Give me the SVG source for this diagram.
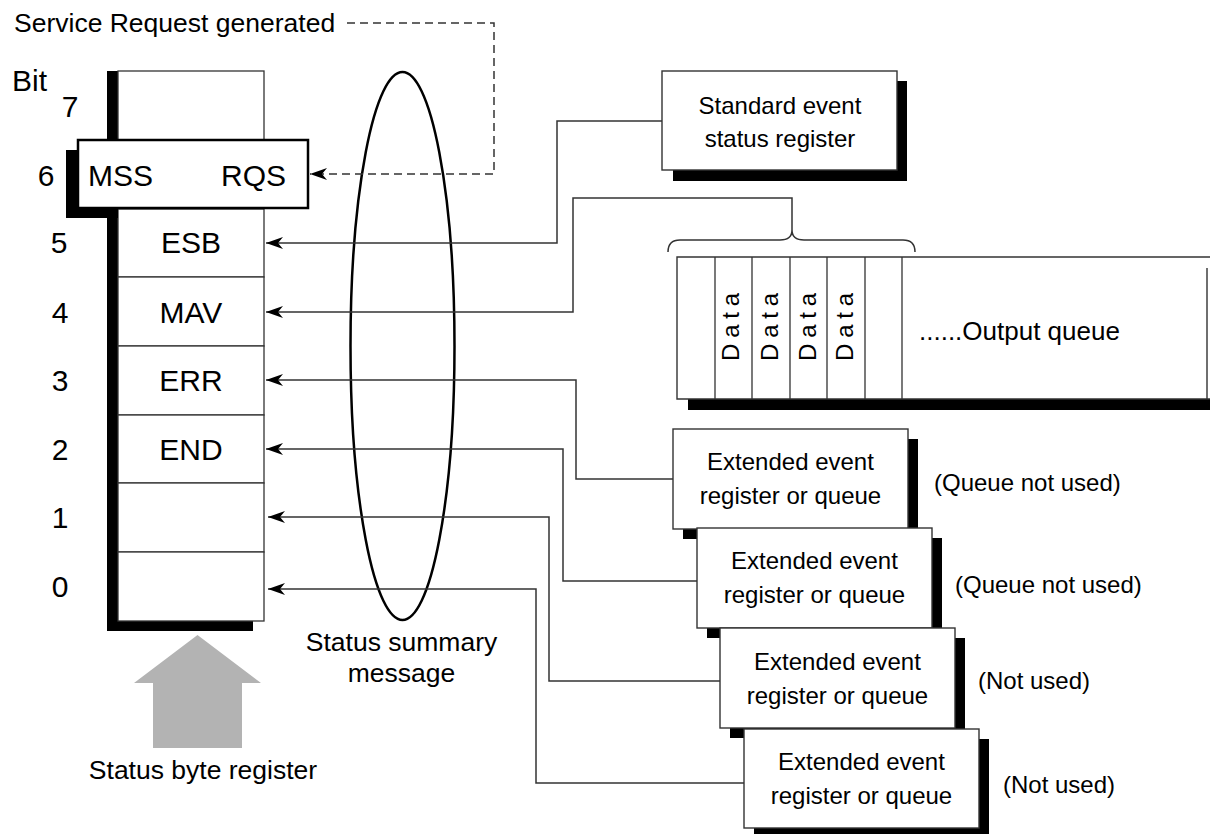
<svg xmlns="http://www.w3.org/2000/svg" width="1210" height="834" viewBox="0 0 1210 834">
<style>
text{font-family:"Liberation Sans",Arial,sans-serif;fill:#000}
.big{font-size:30px}
.mid{font-size:26.5px}
.sm{font-size:24px}
.cell{fill:#fff;stroke:#333;stroke-width:1.3}
.box{fill:#fff;stroke:#333;stroke-width:1.4}
.shadow{fill:#000}
.conn{fill:none;stroke:#333;stroke-width:1.5}
</style>
<defs>
<marker id="ah" viewBox="-18 -7 20 14" refX="0" refY="0" markerWidth="20" markerHeight="14" markerUnits="userSpaceOnUse" orient="auto">
<path d="M0,0 L-17,-6 L-12,0 L-17,6 Z" fill="#000" stroke="none"/>
</marker>
</defs>
<rect width="1210" height="834" fill="#fff"/>

<text id="srq-label" class="mid" x="14" y="32">Service Request generated</text>
<text id="bit-label" class="big" x="12" y="91">Bit</text>

<g id="bit-numbers" class="big" text-anchor="middle">
<text x="70" y="117">7</text>
<text x="46" y="186">6</text>
<text x="59" y="253">5</text>
<text x="60" y="323">4</text>
<text x="60" y="391">3</text>
<text x="60" y="460">2</text>
<text x="60" y="528">1</text>
<text x="60" y="597">0</text>
</g>

<g id="status-byte-register">
<rect class="shadow" x="107" y="71" width="146" height="560"/>
<rect class="cell" x="118" y="71" width="146" height="69"/>
<rect class="cell" x="118" y="209" width="146" height="68"/>
<rect class="cell" x="118" y="277" width="146" height="69"/>
<rect class="cell" x="118" y="346" width="146" height="69"/>
<rect class="cell" x="118" y="415" width="146" height="68"/>
<rect class="cell" x="118" y="483" width="146" height="69"/>
<rect class="cell" x="118" y="552" width="146" height="69"/>
<g class="big" text-anchor="middle">
<text x="191" y="253">ESB</text>
<text x="191" y="323">MAV</text>
<text x="191" y="391">ERR</text>
<text x="191" y="460">END</text>
</g>
</g>

<g id="mss-rqs">
<rect class="shadow" x="66" y="150" width="52" height="68"/>
<rect x="78" y="140" width="230" height="68" fill="#fff" stroke="#000" stroke-width="2.5"/>
<text class="big" x="88" y="186">MSS</text>
<text class="big" x="286" y="186" text-anchor="end">RQS</text>
</g>

<g id="status-summary">
<ellipse cx="402.5" cy="346" rx="52" ry="274" fill="none" stroke="#000" stroke-width="2.5"/>
<text class="mid" x="401.5" y="651" text-anchor="middle">Status summary</text>
<text class="mid" x="401.5" y="682" text-anchor="middle">message</text>
</g>

<g id="input-arrow">
<polygon points="197.5,635 261,683 242,683 242,748 153,748 153,683 134,683" fill="#b3b3b3"/>
<text class="mid" x="203" y="779" text-anchor="middle">Status byte register</text>
</g>

<g id="standard-event">
<rect class="shadow" x="673" y="81" width="234" height="100"/>
<rect class="box" x="662" y="71" width="235" height="99"/>
<text class="sm" x="780" y="114" text-anchor="middle">Standard event</text>
<text class="sm" x="780" y="147" text-anchor="middle">status register</text>
</g>

<g id="output-queue">
<rect class="shadow" x="688" y="268" width="530" height="142"/>
<rect x="677" y="257" width="540" height="142" fill="#fff" stroke="none"/>
<path d="M1210,257 H677 V399 H1210 M1207,268 V399" fill="none" stroke="#333" stroke-width="1.4"/>
<path d="M715,257 V399 M752,257 V399 M790,257 V399 M827,257 V399 M865,257 V399 M902,257 V399" fill="none" stroke="#333" stroke-width="1.3"/>
<g class="sm" letter-spacing="5.8">
<text x="739" y="361" transform="rotate(-90 739 361)">Data</text>
<text x="778" y="361" transform="rotate(-90 778 361)">Data</text>
<text x="815.5" y="361" transform="rotate(-90 815.5 361)">Data</text>
<text x="853" y="361" transform="rotate(-90 853 361)">Data</text>
</g>
<text x="919" y="340" style="font-size:26px">......Output queue</text>
</g>

<g id="ext1">
<rect class="shadow" x="683" y="439" width="235" height="100"/>
<rect class="box" x="673" y="429" width="235" height="100"/>
<text class="sm" x="790.5" y="470" text-anchor="middle">Extended event</text>
<text class="sm" x="790.5" y="504" text-anchor="middle">register or queue</text>
<text class="sm" x="934" y="491">(Queue not used)</text>
</g>
<g id="ext2">
<rect class="shadow" x="707" y="538" width="235" height="100"/>
<rect class="box" x="697" y="528" width="235" height="100"/>
<text class="sm" x="814.5" y="569" text-anchor="middle">Extended event</text>
<text class="sm" x="814.5" y="603" text-anchor="middle">register or queue</text>
<text class="sm" x="955" y="593">(Queue not used)</text>
</g>
<g id="ext3">
<rect class="shadow" x="730" y="638" width="235" height="100"/>
<rect class="box" x="720" y="628" width="235" height="100"/>
<text class="sm" x="837.5" y="670" text-anchor="middle">Extended event</text>
<text class="sm" x="837.5" y="704" text-anchor="middle">register or queue</text>
<text class="sm" x="978" y="689">(Not used)</text>
</g>
<g id="ext4">
<rect class="shadow" x="754" y="739" width="235" height="100"/>
<rect class="box" x="744" y="729" width="235" height="99"/>
<text class="sm" x="861.5" y="770" text-anchor="middle">Extended event</text>
<text class="sm" x="861.5" y="804" text-anchor="middle">register or queue</text>
<text class="sm" x="1003" y="793">(Not used)</text>
</g>

<g id="connectors">
<path class="conn" d="M347,23 H494 V174 H310" stroke-dasharray="8,5" marker-end="url(#ah)"/>
<path class="conn" d="M662,121 H557 V243 H266" marker-end="url(#ah)"/>
<path class="conn" d="M792,230 V198 H573 V312 H266" marker-end="url(#ah)"/>
<path class="conn" d="M668,252 Q668,240 680,240 H780 Q792,240 792,230 Q792,240 804,240 H903 Q915,240 915,252"/>
<path class="conn" d="M673,479 H576 V380 H266" marker-end="url(#ah)"/>
<path class="conn" d="M697,581 H563 V449 H266" marker-end="url(#ah)"/>
<path class="conn" d="M720,681 H549 V517 H268" marker-end="url(#ah)"/>
<path class="conn" d="M744,783 H536 V589 H268" marker-end="url(#ah)"/>
</g>
</svg>
